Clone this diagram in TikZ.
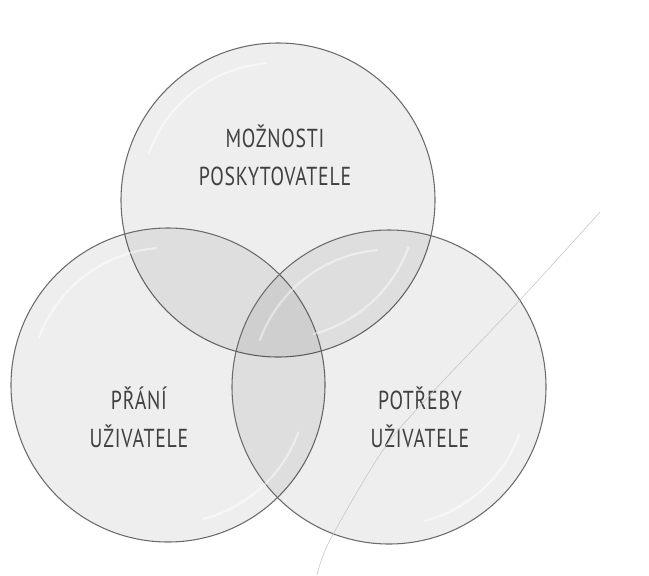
\documentclass[tikz,border=0pt]{standalone}
\usepackage{fontspec}
\setmainfont{PT Sans}[FakeStretch=0.76,LetterSpace=3]

\begin{document}
\begin{tikzpicture}[
    x=0.75pt, y=-0.75pt,
    ring/.style={draw=black!58, circle, line width=0.8pt, fill=black, fill opacity=0.065, draw opacity=1, minimum size=235.5pt, inner sep=0pt},
    shine/.style={draw=white, line width=1.6pt, opacity=0.45, line cap=round},
    tag/.style={text=black!75, align=center, inner sep=0pt, font=\fontsize{19.5}{28.5}\selectfont},
    crease/.style={draw=black!22, line width=0.45pt}
]
\useasboundingbox (0,0) rectangle (649,575);

% the three circles
\node[ring] (offer) at (278,200) {};
\node[ring] (wish) at (168,385) {};
\node[ring] (need) at (389,387) {};

% glassy highlights inside each circle
\foreach \c in {offer,wish,need} {
    \draw[shine] ([shift={(95:103pt)}]\c.center) arc[start angle=95, end angle=160, radius=103pt];
    \draw[shine] ([shift={(-75:104pt)}]\c.center) arc[start angle=-75, end angle=-20, radius=104pt];
}

% labels
\node[tag] (offertext) at (275,155) {MOŽNOSTI\\POSKYTOVATELE};
\node[tag] (wishtext) at (139,417) {PŘÁNÍ\\UŽIVATELE};
\node[tag] (needtext) at (420,417) {POTŘEBY\\UŽIVATELE};

% faint fold line of the scan
\draw[crease] plot[smooth, tension=0.5] coordinates {(600,212) (520,300) (430,395) (383,450) (330,540) (317,575)};
\end{tikzpicture}
\end{document}
